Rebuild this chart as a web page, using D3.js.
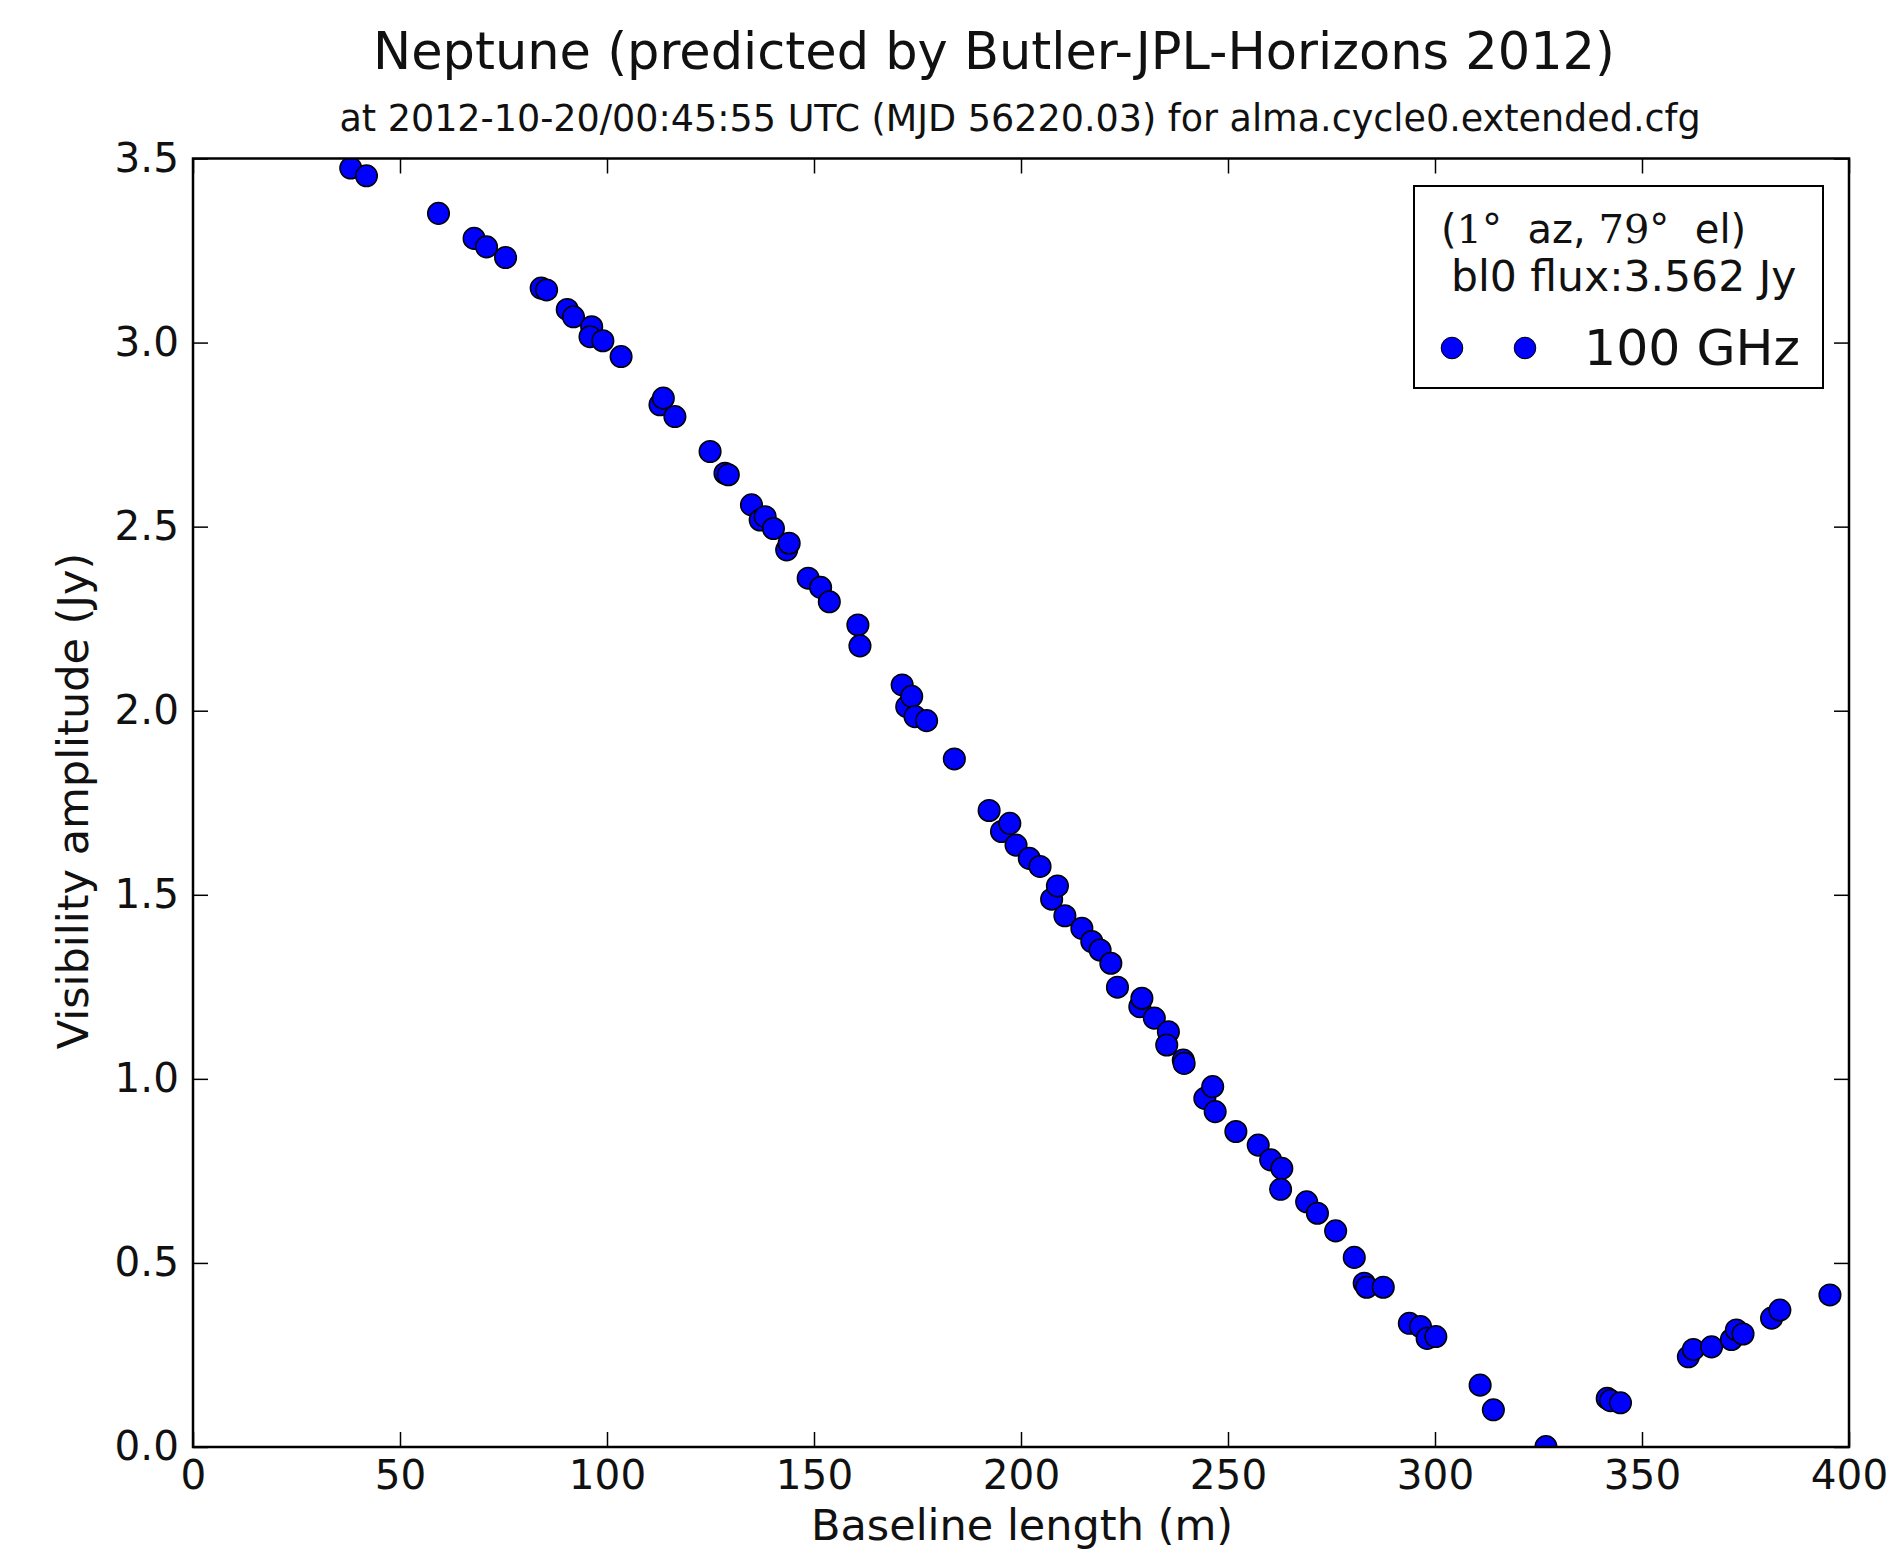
<!DOCTYPE html>
<html>
<head>
<meta charset="utf-8">
<script src="https://cdn.jsdelivr.net/npm/d3@7"></script>
<style>
  html, body { margin: 0; padding: 0; background: #ffffff; }
  svg { display: block; }
  text { font-family: "DejaVu Sans", sans-serif; fill: #111; }
</style>
</head>
<body>
<svg id="chart" width="1889" height="1562"></svg>
<script>
// ---- data ----
const baseline = [
  38.1, 41.9, 59.3, 67.9, 70.9, 75.5, 84.1, 85.4, 90.4, 91.9,
  96.3, 95.9, 99.0, 103.4, 112.8, 113.6, 116.4, 124.9, 128.5, 129.3,
  134.9, 137.0, 138.2, 140.2, 143.4, 144.0, 148.6, 151.6, 153.7, 160.6,
  161.1, 171.3, 172.4, 173.6, 174.4, 177.2, 183.9, 192.3, 195.3, 197.3,
  198.8, 202.0, 204.6, 207.4, 208.8, 210.6, 214.7, 217.1, 219.1, 221.7,
  223.3, 228.7, 229.2, 232.2, 235.6, 235.2, 239.2, 239.4, 244.4, 246.3,
  246.9, 251.9, 257.3, 260.3, 263.0, 262.7, 269.0, 271.6, 276.0, 280.5,
  282.9, 283.5, 287.5, 293.8, 296.5, 298.1, 300.2, 310.9, 314.1, 326.8,
  341.6, 342.4, 344.8, 361.2, 362.4, 366.8, 371.6, 372.8, 374.4, 381.3,
  383.3, 395.4
];
const amplitude = [
  3.474, 3.453, 3.351, 3.283, 3.260, 3.231, 3.148, 3.143, 3.090, 3.070,
  3.043, 3.016, 3.005, 2.962, 2.831, 2.849, 2.799, 2.704, 2.645, 2.641,
  2.559, 2.518, 2.527, 2.495, 2.437, 2.455, 2.360, 2.335, 2.296, 2.233,
  2.176, 2.070, 2.011, 2.039, 1.984, 1.973, 1.869, 1.729, 1.672, 1.694,
  1.635, 1.599, 1.577, 1.488, 1.524, 1.443, 1.409, 1.373, 1.350, 1.314,
  1.249, 1.196, 1.219, 1.165, 1.128, 1.092, 1.051, 1.042, 0.947, 0.979,
  0.911, 0.857, 0.820, 0.780, 0.757, 0.700, 0.666, 0.635, 0.587, 0.515,
  0.445, 0.434, 0.434, 0.336, 0.327, 0.295, 0.300, 0.168, 0.101, 0.001,
  0.132, 0.126, 0.120, 0.245, 0.265, 0.272, 0.292, 0.318, 0.307, 0.350,
  0.372, 0.413
];
const xTicks = [0, 50, 100, 150, 200, 250, 300, 350, 400];
const yTicks = [0.0, 0.5, 1.0, 1.5, 2.0, 2.5, 3.0, 3.5];
const titleText = "Neptune (predicted by Butler-JPL-Horizons 2012)";
const subtitleText = "at 2012-10-20/00:45:55 UTC (MJD 56220.03) for alma.cycle0.extended.cfg";
const xLabel = "Baseline length (m)";
const yLabel = "Visibility amplitude (Jy)";
const legendLabel = "100 GHz";
const fluxText = "bl0 flux:3.562 Jy";

// ---- layout ----
const L = 193, R = 1849, T = 158.5, B = 1447;
const svg = d3.select("#chart");
svg.append("rect").attr("width", 1889).attr("height", 1562).attr("fill", "#fff");

const x = d3.scaleLinear().domain([0, 400]).range([L, R]);
const y = d3.scaleLinear().domain([0, 3.5]).range([B, T]);

// clip
svg.append("clipPath").attr("id", "plotclip")
  .append("rect").attr("x", L).attr("y", T).attr("width", R - L).attr("height", B - T);

// points
const pts = baseline.map((b, i) => ({ b, a: amplitude[i] }));
svg.append("g").attr("clip-path", "url(#plotclip)")
  .selectAll("circle").data(pts).join("circle")
  .attr("cx", d => x(d.b)).attr("cy", d => y(d.a)).attr("r", 10.8)
  .attr("fill", "#0000ff").attr("stroke", "#000").attr("stroke-width", 1.5);

// axes
const tickLen = 15;
const fmt = d3.format(".1f");
const gx = svg.append("g").attr("transform", `translate(0,${B})`)
  .call(d3.axisBottom(x).tickValues(xTicks).tickSizeInner(-tickLen).tickSizeOuter(0).tickPadding(13));
const gxt = svg.append("g").attr("transform", `translate(0,${T})`)
  .call(d3.axisTop(x).tickValues(xTicks).tickSizeInner(-tickLen).tickSizeOuter(0).tickFormat(""));
const gy = svg.append("g").attr("transform", `translate(${L},0)`)
  .call(d3.axisLeft(y).tickValues(yTicks).tickSizeInner(-tickLen).tickSizeOuter(0).tickPadding(14).tickFormat(fmt));
const gyr = svg.append("g").attr("transform", `translate(${R},0)`)
  .call(d3.axisRight(y).tickValues(yTicks).tickSizeInner(-tickLen).tickSizeOuter(0).tickFormat(""));
[gx, gxt, gy, gyr].forEach(g => {
  g.select(".domain").remove();
  g.selectAll(".tick line").attr("stroke", "#000").attr("stroke-width", 1.5);
  g.selectAll(".tick text").attr("font-size", 40.5).attr("font-family", "DejaVu Sans").attr("fill", "#111");
});

// frame
svg.append("rect").attr("x", L).attr("y", T).attr("width", R - L).attr("height", B - T)
  .attr("fill", "none").attr("stroke", "#000").attr("stroke-width", 2.5);

// titles
svg.append("text").attr("x", 994).attr("y", 69).attr("text-anchor", "middle")
  .attr("font-size", 51).text(titleText);
svg.append("text").attr("x", 1020).attr("y", 131).attr("text-anchor", "middle")
  .attr("font-size", 36.5).text(subtitleText);

// axis labels
svg.append("text").attr("x", 1022).attr("y", 1540).attr("text-anchor", "middle")
  .attr("font-size", 43).text(xLabel);
svg.append("text").attr("transform", "translate(88,801) rotate(-90)").attr("text-anchor", "middle")
  .attr("font-size", 43).text(yLabel);

// legend
const lg = svg.append("g");
lg.append("rect").attr("x", 1414).attr("y", 186).attr("width", 409).attr("height", 202)
  .attr("fill", "#fff").attr("stroke", "#000").attr("stroke-width", 2);
const l1 = lg.append("text").attr("x", 1441).attr("y", 243).attr("font-size", 40);
l1.append("tspan").text("(");
l1.append("tspan").attr("font-family", "DejaVu Serif").text("1");
l1.append("tspan").text("°\u00a0\u00a0az, ");
l1.append("tspan").attr("font-family", "DejaVu Serif").text("79");
l1.append("tspan").text("°\u00a0\u00a0el)");
lg.append("text").attr("x", 1451).attr("y", 291).attr("font-size", 42.5).text(fluxText);
lg.selectAll("circle.lm").data([1452, 1525]).join("circle").attr("class", "lm")
  .attr("cx", d => d).attr("cy", 348).attr("r", 10.8)
  .attr("fill", "#0000ff").attr("stroke", "#000").attr("stroke-width", 1);
lg.append("text").attr("x", 1584).attr("y", 365).attr("font-size", 50.5).text(legendLabel);
</script>
</body>
</html>
